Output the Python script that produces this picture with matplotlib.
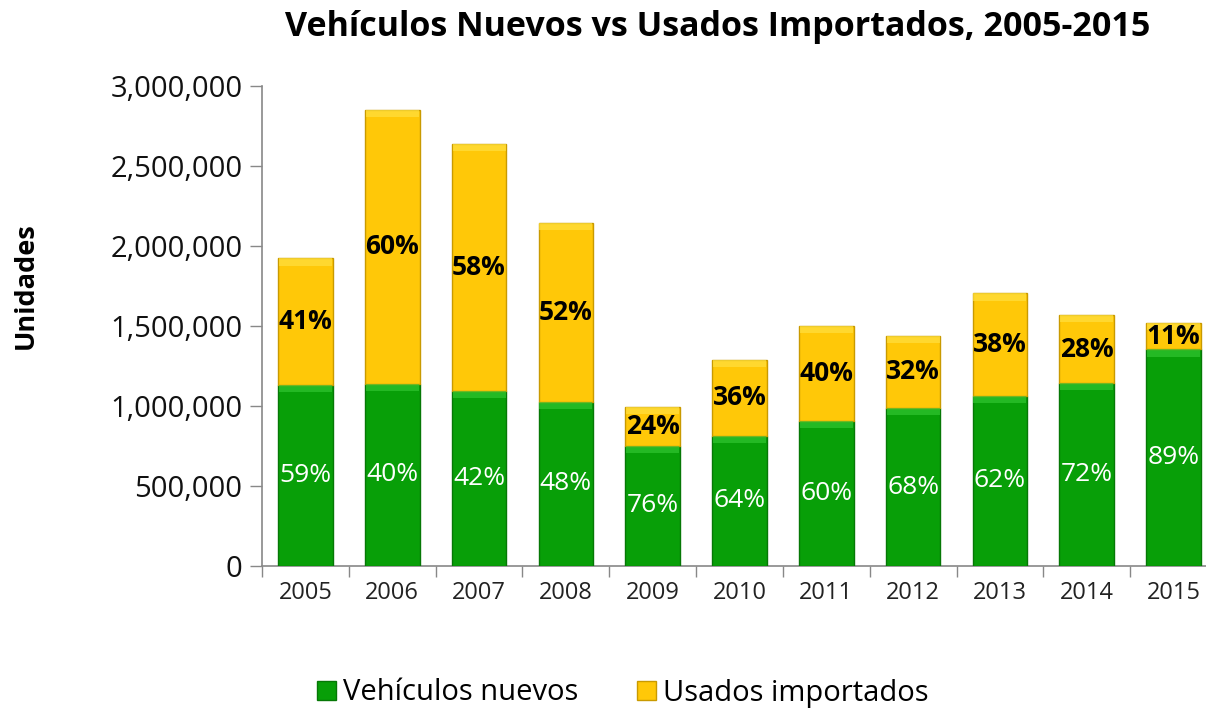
import matplotlib
matplotlib.use("Agg")
import matplotlib.pyplot as plt
from matplotlib.ticker import FuncFormatter, FixedLocator
import numpy as np

years = ["2005", "2006", "2007", "2008", "2009", "2010", "2011", "2012", "2013", "2014", "2015"]
nuevos = [1131000, 1138000, 1094000, 1027000, 752000, 814000, 908000, 986000, 1064000, 1142000, 1354000]
usados = [792000, 1712000, 1544000, 1119000, 240000, 474000, 592000, 454000, 640000, 425000, 166000]
pct_nuevos = ["59%", "40%", "42%", "48%", "76%", "64%", "60%", "68%", "62%", "72%", "89%"]
pct_usados = ["41%", "60%", "58%", "52%", "24%", "36%", "40%", "32%", "38%", "28%", "11%"]
yticks = [0, 500000, 1000000, 1500000, 2000000, 2500000, 3000000]

FONT = ["Open Sans", "DejaVu Sans"]
plt.rcParams['font.family'] = FONT

W, H = 1206, 711
fig = plt.figure(figsize=(W / 100, H / 100), dpi=100)
left, right, bottom, top = 262, 1217, 566, 86
ax = fig.add_axes([left / W, (H - bottom) / H, (right - left) / W, (bottom - top) / H])

x = np.arange(len(years))
green = "#089f08"
green_edge = "#067806"
green_light = "#38cc38"
yellow = "#ffc808"
yellow_edge = "#c99a00"
yellow_light = "#ffe040"
bw = 0.63
bevel = 45000

b1 = ax.bar(x, nuevos, width=bw, color=green, edgecolor=green_edge, linewidth=1.0,
            label="Vehículos nuevos", zorder=3)
b2 = ax.bar(x, usados, width=bw, bottom=nuevos, color=yellow, edgecolor=yellow_edge,
            linewidth=1.0, label="Usados importados", zorder=3)
totals = [n + u for n, u in zip(nuevos, usados)]
ax.bar(x, [bevel] * len(x), width=bw * 0.97, bottom=[n - bevel for n in nuevos],
       color=green_light, alpha=0.6, linewidth=0, zorder=4)
ax.bar(x, [bevel] * len(x), width=bw * 0.97, bottom=[t - bevel for t in totals],
       color=yellow_light, alpha=0.7, linewidth=0, zorder=4)

for i in range(len(years)):
    ax.text(x[i], nuevos[i] / 2, pct_nuevos[i], ha="center", va="center",
            color="white", fontsize=19, zorder=5)
    ax.text(x[i], nuevos[i] + usados[i] / 2, pct_usados[i], ha="center", va="center",
            color="black", fontsize=19, fontweight="bold", zorder=5)

ax.set_xlim(-0.5, len(years) - 0.5)
ax.set_ylim(0, 3000000)
ax.set_yticks(yticks)
ax.yaxis.set_major_formatter(FuncFormatter(lambda v, p: f"{int(v):,}"))
ax.set_xticks(x)
ax.set_xticklabels(years)
ax.xaxis.set_minor_locator(FixedLocator(np.arange(-0.5, len(years), 1.0)))
ax.tick_params(axis="x", which="major", length=0, labelsize=17, pad=11, colors="#222222")
ax.tick_params(axis="x", which="minor", length=8, color="#888888", width=1)
ax.tick_params(axis="y", which="major", length=9, color="#888888", width=1,
               labelsize=21, pad=5, labelcolor="#111111")

for s in ["top", "right"]:
    ax.spines[s].set_visible(False)
for s in ["left", "bottom"]:
    ax.spines[s].set_color("#888888")
    ax.spines[s].set_linewidth(1.2)

fig.text(26 / W, 1 - 286 / H, "Unidades", rotation=90, ha="center", va="center",
         fontsize=19.5, fontweight="bold")
fig.text(718 / W, 1 - 27 / H, "Vehículos Nuevos vs Usados Importados, 2005-2015",
         ha="center", va="center", fontsize=24.5, fontweight="bold")

fig.legend(handles=[b1, b2], loc="center", bbox_to_anchor=(623 / W, 1 - 693 / H),
           ncol=2, frameon=False, fontsize=21, handlelength=0.65, handleheight=0.65,
           handletextpad=0.25, columnspacing=2.0)

fig.savefig("out.png", dpi=100)
